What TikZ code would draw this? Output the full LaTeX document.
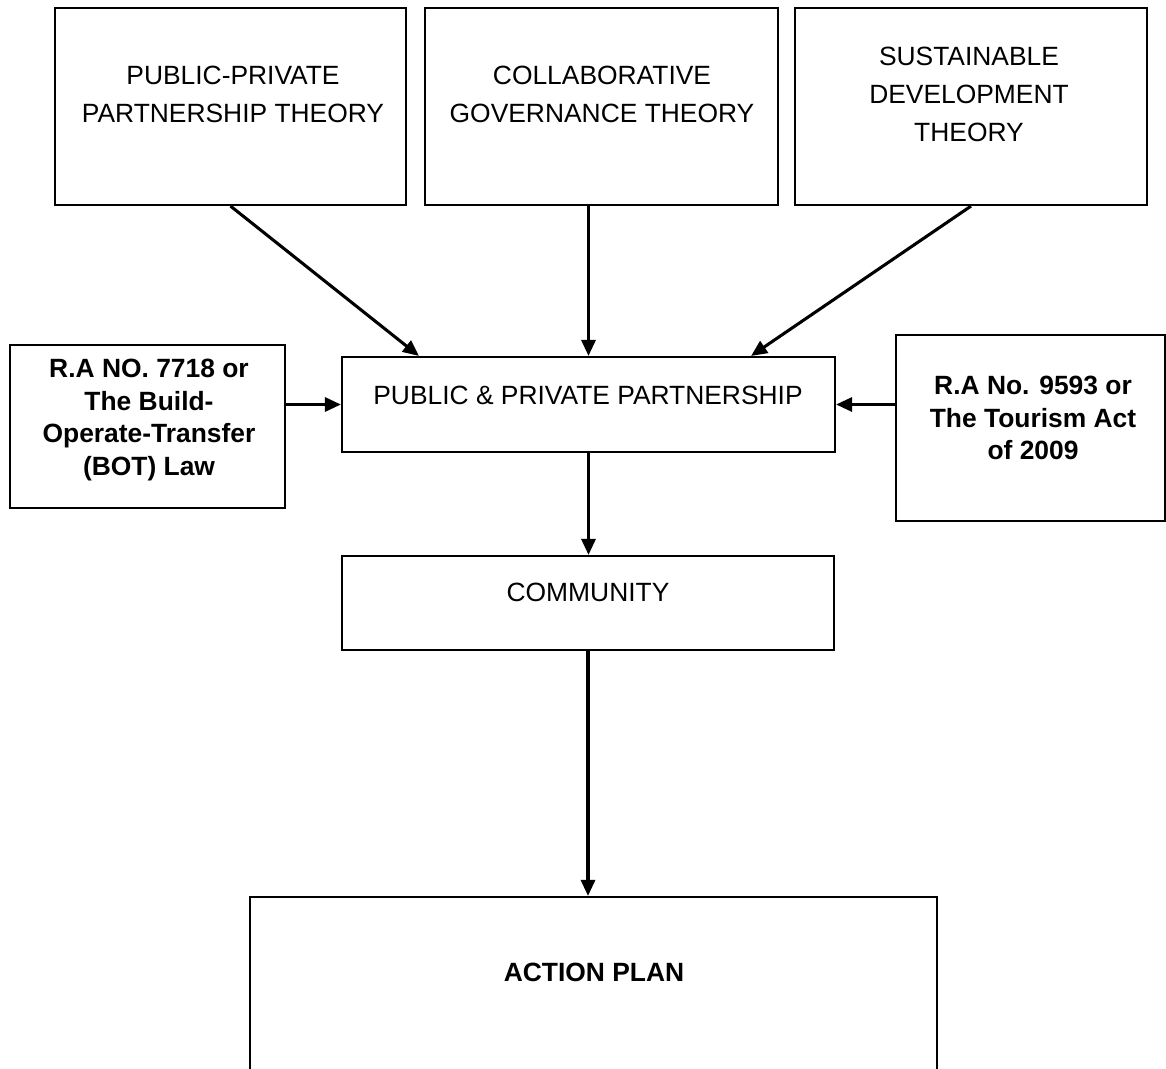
\documentclass[tikz,border=0pt]{standalone}
\usepackage{fontspec}
\setmainfont{Liberation Sans}
\usetikzlibrary{arrows.meta,calc}
\tikzset{
  box/.style={draw,line width=1.6pt,inner sep=0pt},
  lbl/.style={align=center,inner sep=0pt,font=\fontsize{19.8}{28.5}\selectfont},
  blbl/.style={align=center,inner sep=0pt,font=\fontsize{19.8}{24.5}\selectfont\bfseries},
  arr/.style={line width=2.3pt,-{Triangle[length=12pt,width=10.5pt]}}
}
\begin{document}
\begin{tikzpicture}[x=0.75pt,y=-0.75pt]
\useasboundingbox (0,0) rectangle (1166,1068);
\clip (0,0) rectangle (1166,1068);
% theory boxes
\node[box,minimum width=263.25pt,minimum height=147.75pt] (ppt) at (230.5,106.5) {};
\node[box,minimum width=264.75pt,minimum height=147.75pt] (cgt) at (601.5,106.5) {};
\node[box,minimum width=264pt,minimum height=147.75pt] (sdt) at (971,106.5) {};
\node[lbl] (ppt-t) at (233,94) {PUBLIC-PRIVATE\\PARTNERSHIP THEORY};
\node[lbl] (cgt-t) at (602,94) {COLLABORATIVE\\GOVERNANCE THEORY};
\node[lbl] (sdt-t) at (969,94) {SUSTAINABLE\\DEVELOPMENT\\THEORY};
% laws and partnership
\node[box,minimum width=206.25pt,minimum height=122.25pt] (ra7718) at (147.5,426.5) {};
\node[box,minimum width=369.75pt,minimum height=71.25pt] (ppp) at (588.5,404.5) {};
\node[box,minimum width=201.75pt,minimum height=139.5pt] (ra9593) at (1030.5,428) {};
\node[blbl] (ra7718-t) at (149,420) {R.A NO. 7718 or\\The Build-\\Operate-Transfer\\(BOT) Law};
\node[lbl] (ppp-t) at (588,395) {PUBLIC \& PRIVATE PARTNERSHIP};
\node[blbl] (ra9593-t) at (1033,418) {R.A No. 9593 or\\The Tourism Act\\of 2009};
% community and action plan
\node[box,minimum width=369pt,minimum height=70.5pt] (com) at (588,603) {};
\node[lbl] (com-t) at (588,592) {COMMUNITY};
\node[box,minimum width=515.25pt,minimum height=144.75pt] (act) at (593.5,993.5) {};
\node[blbl] (act-t) at (594,972) {ACTION PLAN};
% arrows
\draw[arr] (ppt.south) -- ($(ppp.north west)+(78,0)$);
\draw[arr] (cgt.south -| ppp.north) -- (ppp.north);
\draw[arr] (sdt.south) -- ($(ppp.north east)+(-85,0)$);
\draw[arr] (ra7718.east |- ppp.west) -- (ppp.west);
\draw[arr] (ra9593.west |- ppp.east) -- (ppp.east);
\draw[arr] (ppp.south) -- (ppp.south |- com.north);
\draw[arr] (com.south) -- (com.south |- act.north);
\end{tikzpicture}
\end{document}
